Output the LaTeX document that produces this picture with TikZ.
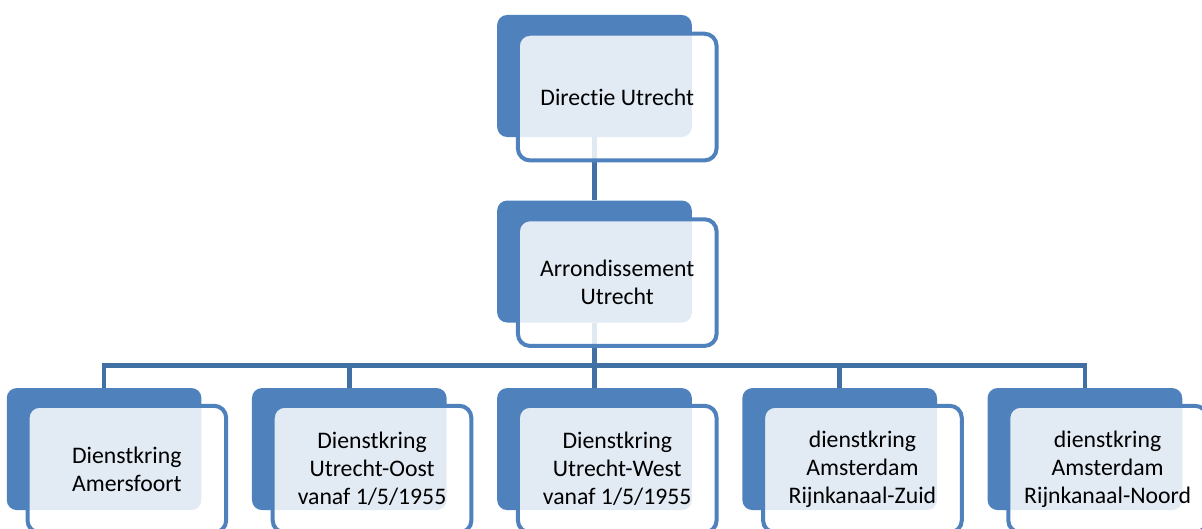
\documentclass[tikz,border=0pt]{standalone}
\usepackage{fontspec}
\setmainfont{Carlito}[Ligatures={NoCommon}]
\usetikzlibrary{positioning}

\definecolor{boxblue}{RGB}{79,129,189}
\definecolor{linkblue}{RGB}{65,112,165}

\begin{document}
\begin{tikzpicture}[
x=0.75pt, y=-0.75pt,
node distance=37.5pt,
back/.style={fill=boxblue, rounded corners=7.5pt, inner sep=0pt, minimum width=146pt, minimum height=91.5pt},
front/.style={draw=boxblue, line width=3pt, fill=white, fill opacity=0.84, text opacity=1, rounded corners=9pt, minimum width=149pt, minimum height=95pt, align=center, anchor=north west, font=\fontsize{17.8}{21}\selectfont},
link/.style={draw=linkblue, line width=3.5pt}
]
\useasboundingbox (0,0) rectangle (1202,528);
\clip (0,0) rectangle (1202,528);

% back panels
\node[back] (dirback) at (594.5,76) {};
\node[back, below=47.25pt of dirback] (arrback) {};
\node[back, below=48.75pt of arrback] (cwestback) {};
\node[back, left=of cwestback] (coostback) {};
\node[back, left=of coostback] (camersback) {};
\node[back, right=of cwestback] (czuidback) {};
\node[back, right=of czuidback] (cnoordback) {};

% connections
\draw[link] (dirback.south) -- (arrback.north);
\draw[link] (arrback.south) -- (cwestback.north);
\draw[link] (camersback.north) -- ++(0,-22) -| (cnoordback.north);
\draw[link] (coostback.north) -- ++(0,-22);
\draw[link] (czuidback.north) -- ++(0,-22);

% Directie
\node[front] (dir) at ([shift={(19,17)}]dirback.north west) {Directie Utrecht};

% Arrondissement
\node[front] (arr) at ([shift={(19,17)}]arrback.north west) {Arrondissement\\Utrecht};

% Dienstkringen
\node[front] (camers) at ([shift={(19,16)}]camersback.north west) {Dienstkring\\Amersfoort};
\node[front] (coost) at ([shift={(19,16)}]coostback.north west) {Dienstkring\\Utrecht-Oost\\vanaf 1/5/1955};
\node[front] (cwest) at ([shift={(19,16)}]cwestback.north west) {Dienstkring\\Utrecht-West\\vanaf 1/5/1955};
\node[front] (czuid) at ([shift={(19,16)}]czuidback.north west) {dienstkring\\Amsterdam\\Rijnkanaal-Zuid};
\node[front] (cnoord) at ([shift={(19,16)}]cnoordback.north west) {dienstkring\\Amsterdam\\Rijnkanaal-Noord};

\end{tikzpicture}
\end{document}
